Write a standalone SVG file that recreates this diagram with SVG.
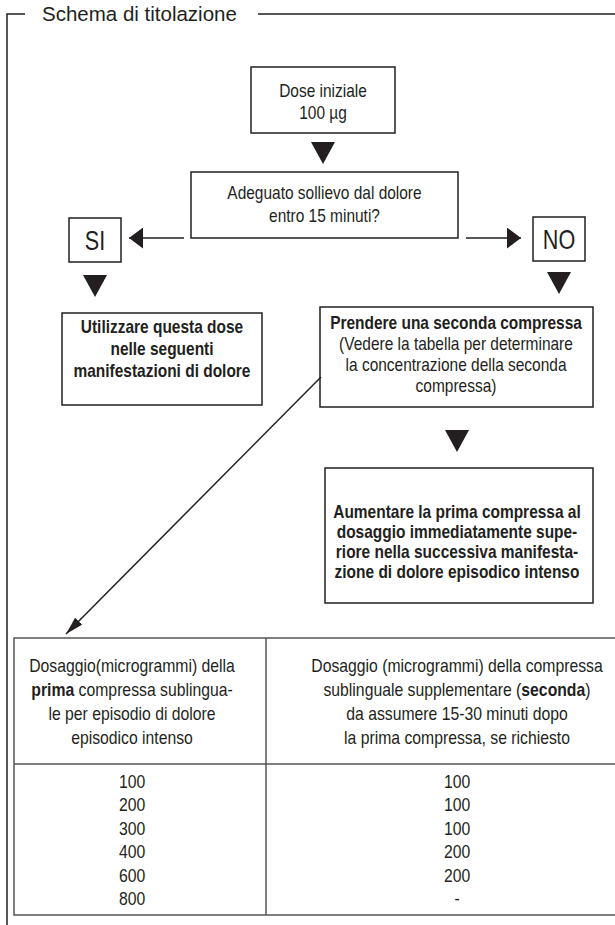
<svg xmlns="http://www.w3.org/2000/svg" xmlns:xlink="http://www.w3.org/1999/xlink" width="615" height="925" viewBox="0 0 615 925">
<style>
.t{font-family:"Liberation Sans",Arial,sans-serif;font-size:18px;fill:#231f20;text-anchor:middle;transform:scaleX(0.86);transform-box:fill-box;transform-origin:center}
.b{font-weight:bold}
.big{font-size:27px;transform:scaleX(0.8)}
.tab{font-size:19px;transform:scaleX(0.83)}
.title{font-family:"Liberation Sans",Arial,sans-serif;font-size:20.5px;fill:#231f20}
.box{fill:#fff;stroke:#231f20;stroke-width:1.5}
.ln{fill:none;stroke:#231f20;stroke-width:1.5}
.tl{fill:none;stroke:#555;stroke-width:1.5}
.tri{fill:#231f20}
</style>
<defs>
<marker id="ah" viewBox="0 0 14 21" refX="14" refY="10.5" markerWidth="14" markerHeight="21" markerUnits="userSpaceOnUse" orient="auto"><path d="M0,0 L14,10.5 L0,21 Z" fill="#231f20"/></marker>
<marker id="ah2" viewBox="0 0 18 10" refX="18" refY="5" markerWidth="18" markerHeight="10" markerUnits="userSpaceOnUse" orient="auto"><path d="M0,0 L18,5 L0,10 Z" fill="#231f20"/></marker>
<path id="tri" d="M-12,0 H12 L0,22 Z"/>
</defs>
<rect width="615" height="925" fill="#fff"/>
<g id="frame">
<path class="ln" d="M7,925 V14 H25 M258,14 H620"/>
<text class="title" x="42" y="21">Schema di titolazione</text>
</g>
<g id="n-dose">
<rect class="box" x="251" y="67" width="144" height="66"/>
<text class="t" x="323" y="97">Dose iniziale</text>
<text class="t" x="323" y="119">100 µg</text>
</g>
<g id="n-question">
<rect class="box" x="191" y="172" width="267" height="66"/>
<text class="t" x="324.5" y="199">Adeguato sollievo dal dolore</text>
<text class="t" x="324.5" y="222">entro 15 minuti?</text>
</g>
<g id="n-si">
<rect class="box" x="69" y="218" width="52" height="44"/>
<text class="t big" x="95" y="250">SI</text>
</g>
<g id="n-no">
<rect class="box" x="533" y="217" width="52" height="44"/>
<text class="t big" x="559" y="249">NO</text>
</g>
<g id="n-utilizzare">
<rect class="box" x="62" y="313" width="200" height="92"/>
<text class="t b" x="162" y="333">Utilizzare questa dose</text>
<text class="t b" x="162" y="355">nelle seguenti</text>
<text class="t b" x="162" y="377">manifestazioni di dolore</text>
</g>
<g id="n-prendere">
<rect class="box" x="320" y="307" width="273" height="100"/>
<text class="t b" x="456" y="329">Prendere una seconda compressa</text>
<text class="t" x="456" y="350">(Vedere la tabella per determinare</text>
<text class="t" x="456" y="371">la concentrazione della seconda</text>
<text class="t" x="456" y="392">compressa)</text>
</g>
<g id="n-aumentare">
<rect class="box" x="325" y="468" width="268" height="135"/>
<text class="t b" x="457" y="518">Aumentare la prima compressa al</text>
<text class="t b" x="457" y="538">dosaggio immediatamente supe-</text>
<text class="t b" x="457" y="558">riore nella successiva manifesta-</text>
<text class="t b" x="457" y="578">zione di dolore episodico intenso</text>
</g>
<g id="n-table">
<rect class="tl" x="14" y="638" width="610" height="277"/>
<path class="tl" d="M266,638 V915 M14,764 H624"/>
<text class="t tab" x="132" y="672">Dosaggio(microgrammi) della</text>
<text class="t tab" x="132" y="696"><tspan class="b">prima</tspan> compressa sublingua-</text>
<text class="t tab" x="132" y="720">le per episodio di dolore</text>
<text class="t tab" x="132" y="744">episodico intenso</text>
<text class="t tab" x="457" y="672">Dosaggio (microgrammi) della compressa</text>
<text class="t tab" x="457" y="696">sublinguale supplementare (<tspan class="b">seconda</tspan>)</text>
<text class="t tab" x="457" y="720">da assumere 15-30 minuti dopo</text>
<text class="t tab" x="457" y="744">la prima compressa, se richiesto</text>
<text class="t tab" x="132" y="788">100</text>
<text class="t tab" x="132" y="811">200</text>
<text class="t tab" x="132" y="835">300</text>
<text class="t tab" x="132" y="858">400</text>
<text class="t tab" x="132" y="882">600</text>
<text class="t tab" x="132" y="905">800</text>
<text class="t tab" x="457" y="788">100</text>
<text class="t tab" x="457" y="811">100</text>
<text class="t tab" x="457" y="835">100</text>
<text class="t tab" x="457" y="858">200</text>
<text class="t tab" x="457" y="882">200</text>
<text class="t tab" x="457" y="905">-</text>
</g>
<g id="connectors">
<use class="tri" xlink:href="#tri" x="323" y="142"/>
<line class="ln" x1="184" y1="238" x2="129" y2="238" marker-end="url(#ah)"/>
<line class="ln" x1="466" y1="238" x2="521" y2="238" marker-end="url(#ah)"/>
<use class="tri" xlink:href="#tri" x="95" y="275"/>
<use class="tri" xlink:href="#tri" x="559" y="272"/>
<use class="tri" xlink:href="#tri" x="457" y="430"/>
<line class="ln" x1="321" y1="377" x2="66" y2="634" marker-end="url(#ah2)"/>
</g>
</svg>
